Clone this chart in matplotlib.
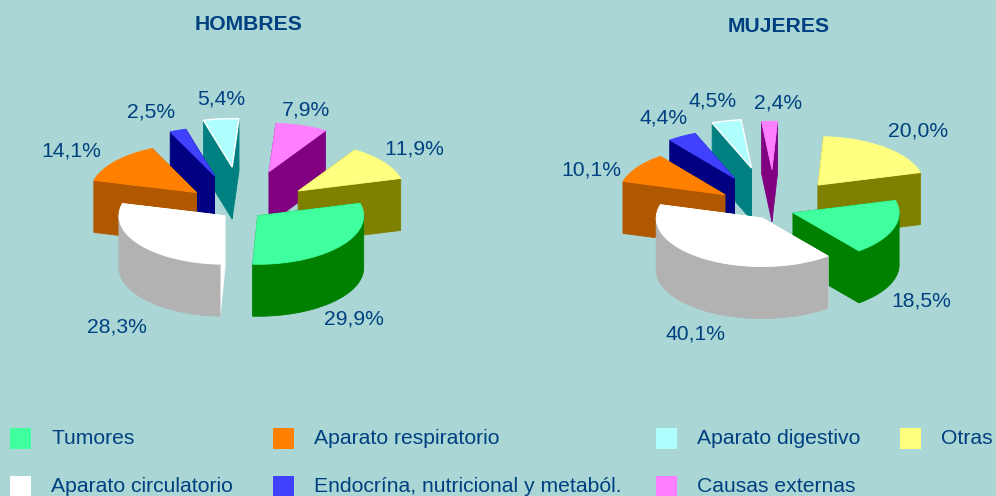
import matplotlib
matplotlib.use('Agg')
import matplotlib.pyplot as plt
import numpy as np

categories = ['Tumores', 'Aparato circulatorio', 'Aparato respiratorio',
              'Endocrína, nutricional y metaból.', 'Aparato digestivo',
              'Causas externas', 'Otras']
hombres = [29.9, 28.3, 14.1, 2.5, 5.4, 7.9, 11.9]
mujeres = [18.5, 40.1, 10.1, 4.4, 4.5, 2.4, 20.0]

top_colors = ['#40FF9F', '#FFFFFF', '#FF8000', '#4040FF', '#AFFFFF', '#FF80FF', '#FFFF80']
side_colors = ['#008000', '#B2B2B2', '#B05800', '#000080', '#008080', '#800080', '#808000']
radial_colors = ['#008000', '#FFFFFF', '#B05800', '#000080', '#008080', '#800080', '#808000']
explode = [0.19, 0.20, 0.56, 0.75, 0.89, 0.83, 0.66]

BG = '#AAD7D5'
TXT = '#004080'
FS = 15.2
RX, RY, DEPTH = 106, 48.5, 52
START = 15

plt.rcParams['font.family'] = ['Liberation Sans', 'DejaVu Sans']
plt.rcParams['text.kerning_factor'] = 6
fig = plt.figure(figsize=(9.96, 4.96), dpi=100, facecolor=BG)
ax = fig.add_axes([0, 0, 1, 1])
ax.set_xlim(0, 996)
ax.set_ylim(496, 0)
ax.axis('off')


def poly(xs, ys, color, z, edge=None, lw=0.6):
    ax.fill(xs, ys, facecolor=color, edgecolor=edge or color, linewidth=lw, zorder=z)


def draw_pie(values, cx, cy):
    angles = START - np.cumsum([0] + values) * 3.6
    mids = (angles[:-1] + angles[1:]) / 2
    # back slices first, front ones on top
    offs = [np.sin(np.radians(m)) * e for m, e in zip(mids, explode)]
    order = np.argsort(offs)[::-1]
    z = 2
    for i in order:
        m = np.radians(mids[i])
        tx = cx + explode[i] * RX * np.cos(m)
        ty = cy - explode[i] * RY * np.sin(m)
        t = np.radians(np.linspace(angles[i], angles[i + 1], 60))
        ex = tx + RX * np.cos(t)
        ey = ty - RY * np.sin(t)
        # radial walls
        for k in (0, -1):
            poly([tx, ex[k], ex[k], tx], [ty, ey[k], ey[k] + DEPTH, ty + DEPTH],
                 radial_colors[i], z)
        # outer wall, only the front half of the rim
        a1, a2 = min(angles[i], 0), max(angles[i + 1], -180)
        if a1 > a2:
            f = np.radians(np.linspace(a1, a2, 60))
            fx = tx + RX * np.cos(f)
            fy = ty - RY * np.sin(f)
            poly(np.r_[fx, fx[::-1]], np.r_[fy, fy[::-1] + DEPTH], side_colors[i], z + 0.1)
        # top
        edge = 'white' if categories[i] == 'Aparato digestivo' else None
        poly(np.r_[tx, ex], np.r_[ty, ey], top_colors[i], z + 0.2, edge=edge,
             lw=1.0 if edge else 0.6)
        z += 1


def fmt(v):
    return f'{v:.1f}%'.replace('.', ',')


draw_pie(hombres, 242, 210)
draw_pie(mujeres, 774, 210)

ax.text(249, 25, 'HOMBRES', color=TXT, fontsize=FS, fontweight='bold', ha='center', va='center', zorder=50)
ax.text(779, 27, 'MUJERES', color=TXT, fontsize=FS, fontweight='bold', ha='center', va='center', zorder=50)

# label centres follow the slice order
lab_h = [(354, 319), (117, 327), (71, 151), (151, 112), (221, 99), (306, 110), (414, 149)]
lab_m = [(921, 301), (695, 334), (591, 170), (664, 118), (713, 101), (778, 103), (918, 131)]
for vals, labs in ((hombres, lab_h), (mujeres, lab_m)):
    for v, (x, y) in zip(vals, labs):
        ax.text(x, y, fmt(v), color=TXT, fontsize=FS, ha='center', va='center', zorder=50)

# legend
leg_x = [10, 10, 273, 273, 656, 656, 900]
leg_y = [438, 486, 438, 486, 438, 486, 438]
for name, col, x, y in zip(categories, top_colors, leg_x, leg_y):
    ax.add_patch(plt.Rectangle((x, y - 10), 21, 21, facecolor=col, edgecolor='none', zorder=50))
    ax.text(x + 41, y + 1, name, color=TXT, fontsize=FS, ha='left', va='center', zorder=50)

fig.savefig('out.png', dpi=100, facecolor=BG)
